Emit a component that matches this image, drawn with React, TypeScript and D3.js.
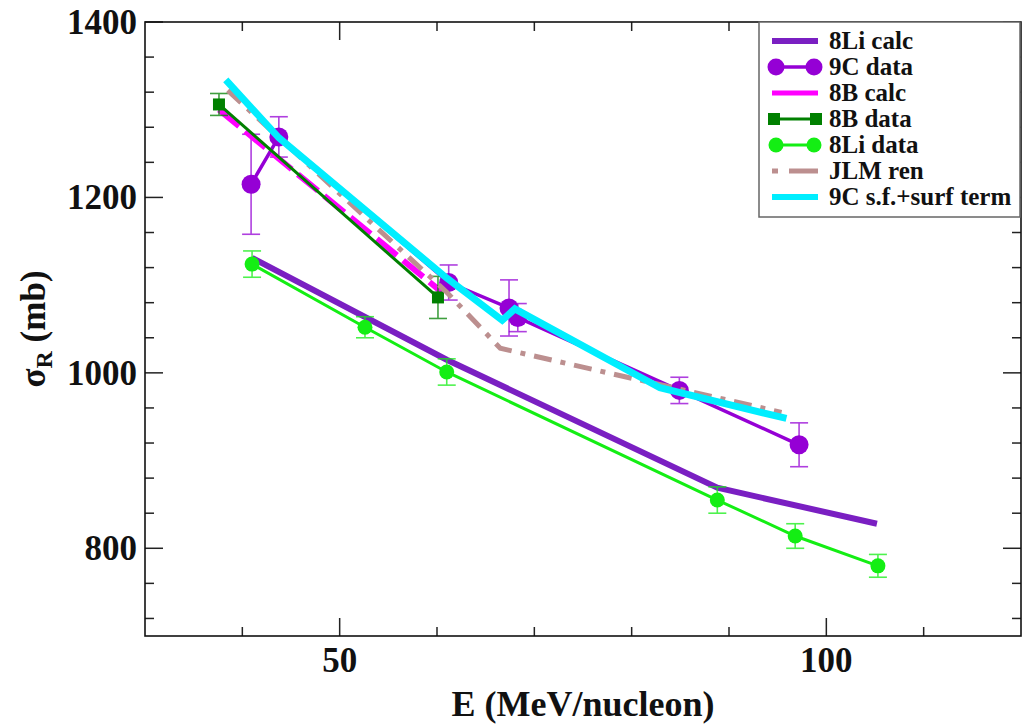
import React from "react";
import * as d3 from "d3";

// ---- data ----
const li8CalcE = [41.0, 61.0, 88.8, 105.2];
const li8CalcSigma = [1131, 1015, 869, 828];

const c9DataE = [40.9, 43.75, 61.2, 67.4, 68.3, 84.9, 97.2];
const c9DataSigma = [1215, 1269, 1103, 1074, 1063, 980, 918];
const c9DataErr = [57, 23, 20, 32, 16, 15, 25];

const b8CalcE = [37.6, 60.5];
const b8CalcSigma = [1300, 1092];

const b8DataE = [37.6, 60.1];
const b8DataSigma = [1306, 1086];
const b8DataErr = [12.5, 24];

const li8DataE = [41.0, 52.6, 61.0, 88.8, 96.8, 105.3];
const li8DataSigma = [1124, 1052, 1001, 855, 814, 780];
const li8DataErr = [15, 12, 15, 15, 14, 13];

const jlmE = [38.5, 61.0, 66.5, 95.4];
const jlmSigma = [1322, 1092, 1028, 955];

const c9SfE = [38.3, 43.75, 61.0, 66.7, 68.0, 82.9, 95.9];
const c9SfSigma = [1334, 1268, 1108, 1060, 1073, 983, 948];

const xMajorTicks = [50, 100];
const xMinorTicks = [40, 60, 70, 80, 90, 110];
const yMajorTicks = [800, 1000, 1200, 1400];
const yMinorTicks = [720, 760, 840, 880, 920, 960, 1040, 1080, 1120, 1160, 1240, 1280, 1320, 1360];

const legendLabels = ["8Li calc", "9C data", "8B calc", "8B data", "8Li data", "JLM ren", "9C s.f.+surf term"];

const C = {
  li8Calc: "#7a1fc2",
  c9: "#9500d5",
  b8Calc: "#ff00ff",
  b8Data: "#008000",
  li8Data: "#14ee14",
  jlm: "#bc8f8f",
  cyan: "#00eeff",
};

const W = 1024, H = 726;
const L = 145, R = 1021, T = 22, B = 636;
const FONT = "Liberation Serif";

export default function App() {
  const x = d3.scaleLinear().domain([30, 120]).range([L, R]);
  const y = d3.scaleLinear().domain([700, 1400]).range([B, T]);
  const line = d3.line<[number, number]>().x(d => x(d[0])).y(d => y(d[1]));
  const pts = (es: number[], ss: number[]) => es.map((e, i) => [e, ss[i]] as [number, number]);

  const errBars = (es: number[], ss: number[], errs: number[], color: string, key: string) =>
    es.map((e, i) => (
      <g key={key + i} stroke={color} strokeWidth={1.6} opacity={0.75}>
        <line x1={x(e)} x2={x(e)} y1={y(ss[i] - errs[i])} y2={y(ss[i] + errs[i])} />
        <line x1={x(e) - 9} x2={x(e) + 9} y1={y(ss[i] - errs[i])} y2={y(ss[i] - errs[i])} />
        <line x1={x(e) - 9} x2={x(e) + 9} y1={y(ss[i] + errs[i])} y2={y(ss[i] + errs[i])} />
      </g>
    ));

  const legX1 = 772, legX2 = 818, legTextX = 829, legY0 = 41, legDy = 26;
  const txt = { fontFamily: FONT, fontWeight: 700 as const, fill: "#111" };

  return (
    <svg width={W} height={H} style={{ position: "absolute", left: 0, top: 0, background: "#fff", fontFamily: FONT }}>
      {/* ticks */}
      <g stroke="#222" strokeWidth={1.5}>
        {xMajorTicks.map(t => (
          <g key={"xM" + t}>
            <line x1={x(t)} x2={x(t)} y1={B} y2={B - 18} />
            <line x1={x(t)} x2={x(t)} y1={T} y2={T + 18} />
          </g>
        ))}
        {xMinorTicks.map(t => (
          <g key={"xm" + t}>
            <line x1={x(t)} x2={x(t)} y1={B} y2={B - 9} />
            <line x1={x(t)} x2={x(t)} y1={T} y2={T + 9} />
          </g>
        ))}
        {yMajorTicks.map(t => (
          <g key={"yM" + t}>
            <line x1={L} x2={L + 18} y1={y(t)} y2={y(t)} />
            <line x1={R} x2={R - 18} y1={y(t)} y2={y(t)} />
          </g>
        ))}
        {yMinorTicks.map(t => (
          <g key={"ym" + t}>
            <line x1={L} x2={L + 9} y1={y(t)} y2={y(t)} />
            <line x1={R} x2={R - 9} y1={y(t)} y2={y(t)} />
          </g>
        ))}
      </g>

      {/* 8Li calc */}
      <path d={line(pts(li8CalcE, li8CalcSigma)) || ""} fill="none" stroke={C.li8Calc} strokeWidth={6} />

      {/* 9C data */}
      {errBars(c9DataE, c9DataSigma, c9DataErr, C.c9, "c9e")}
      <path d={line(pts(c9DataE, c9DataSigma)) || ""} fill="none" stroke={C.c9} strokeWidth={3.5} />
      {c9DataE.map((e, i) => (
        <circle key={"c9" + i} cx={x(e)} cy={y(c9DataSigma[i])} r={9.5} fill={C.c9} />
      ))}

      {/* 8B calc */}
      <path d={line(pts(b8CalcE, b8CalcSigma)) || ""} fill="none" stroke={C.b8Calc} strokeWidth={6} strokeDasharray="26,8" />

      {/* 8B data */}
      {errBars(b8DataE, b8DataSigma, b8DataErr, C.b8Data, "b8e")}
      <path d={line(pts(b8DataE, b8DataSigma)) || ""} fill="none" stroke={C.b8Data} strokeWidth={3} />
      {b8DataE.map((e, i) => (
        <rect key={"b8" + i} x={x(e) - 6} y={y(b8DataSigma[i]) - 6} width={12} height={12} fill={C.b8Data} />
      ))}

      {/* 8Li data */}
      {errBars(li8DataE, li8DataSigma, li8DataErr, C.li8Data, "li8e")}
      <path d={line(pts(li8DataE, li8DataSigma)) || ""} fill="none" stroke={C.li8Data} strokeWidth={3} />
      {li8DataE.map((e, i) => (
        <circle key={"li8" + i} cx={x(e)} cy={y(li8DataSigma[i])} r={7.5} fill={C.li8Data} />
      ))}

      {/* JLM ren */}
      <path d={line(pts(jlmE, jlmSigma)) || ""} fill="none" stroke={C.jlm} strokeWidth={5} strokeDasharray="18,9,5,9" />

      {/* 9C s.f.+surf term */}
      <path d={line(pts(c9SfE, c9SfSigma)) || ""} fill="none" stroke={C.cyan} strokeWidth={7} strokeLinejoin="miter" />

      {/* frame */}
      <rect x={L} y={T} width={R - L} height={B - T} fill="none" stroke="#111" strokeWidth={1.6} />

      {/* legend */}
      <rect x={759} y={T} width={261} height={195} fill="#fff" stroke="#666" strokeWidth={1.5} />
      {legendLabels.map((lab, i) => {
        const ly = legY0 + i * legDy;
        let sample: React.ReactNode = null;
        if (i === 0) sample = <line x1={legX1} x2={legX2} y1={ly} y2={ly} stroke={C.li8Calc} strokeWidth={6} />;
        if (i === 1)
          sample = (
            <g>
              <line x1={legX1 + 4} x2={legX2 - 4} y1={ly} y2={ly} stroke={C.c9} strokeWidth={3.5} />
              <circle cx={legX1 + 4} cy={ly} r={8.5} fill={C.c9} />
              <circle cx={legX2 - 4} cy={ly} r={8.5} fill={C.c9} />
            </g>
          );
        if (i === 2) sample = <line x1={legX1} x2={legX2} y1={ly} y2={ly} stroke={C.b8Calc} strokeWidth={5} />;
        if (i === 3)
          sample = (
            <g>
              <line x1={legX1 + 2} x2={legX2 - 2} y1={ly} y2={ly} stroke={C.b8Data} strokeWidth={3} />
              <rect x={legX1 - 4} y={ly - 6} width={12} height={12} fill={C.b8Data} />
              <rect x={legX2 - 8} y={ly - 6} width={12} height={12} fill={C.b8Data} />
            </g>
          );
        if (i === 4)
          sample = (
            <g>
              <line x1={legX1 + 4} x2={legX2 - 4} y1={ly} y2={ly} stroke={C.li8Data} strokeWidth={3} />
              <circle cx={legX1 + 4} cy={ly} r={7.5} fill={C.li8Data} />
              <circle cx={legX2 - 4} cy={ly} r={7.5} fill={C.li8Data} />
            </g>
          );
        if (i === 5)
          sample = (
            <g stroke={C.jlm} strokeWidth={5}>
              <line x1={legX1} x2={legX1 + 6} y1={ly} y2={ly} />
              <line x1={legX1 + 17} x2={legX2} y1={ly} y2={ly} />
            </g>
          );
        if (i === 6) sample = <line x1={legX1} x2={legX2} y1={ly} y2={ly} stroke={C.cyan} strokeWidth={6} />;
        return (
          <g key={"leg" + i}>
            {sample}
            <text x={legTextX} y={ly + 8} fontSize={25} style={txt}>
              {lab}
            </text>
          </g>
        );
      })}

      {/* tick labels */}
      {xMajorTicks.map(t => (
        <text key={"xl" + t} x={x(t)} y={672} textAnchor="middle" fontSize={35} style={txt}>
          {t}
        </text>
      ))}
      {yMajorTicks.map(t => (
        <text key={"yl" + t} x={137} y={y(t) + 12} textAnchor="end" fontSize={35} style={txt}>
          {t}
        </text>
      ))}

      {/* axis titles */}
      <text x={(L + R) / 2} y={716} textAnchor="middle" fontSize={36} style={txt}>
        E (MeV/nucleon)
      </text>
      <text transform={`translate(45,${(T + B) / 2}) rotate(-90)`} textAnchor="middle" fontSize={35} style={txt}>
        σ<tspan dy={7} fontSize={24}>R</tspan>
        <tspan dy={-7}> (mb)</tspan>
      </text>
    </svg>
  );
}
